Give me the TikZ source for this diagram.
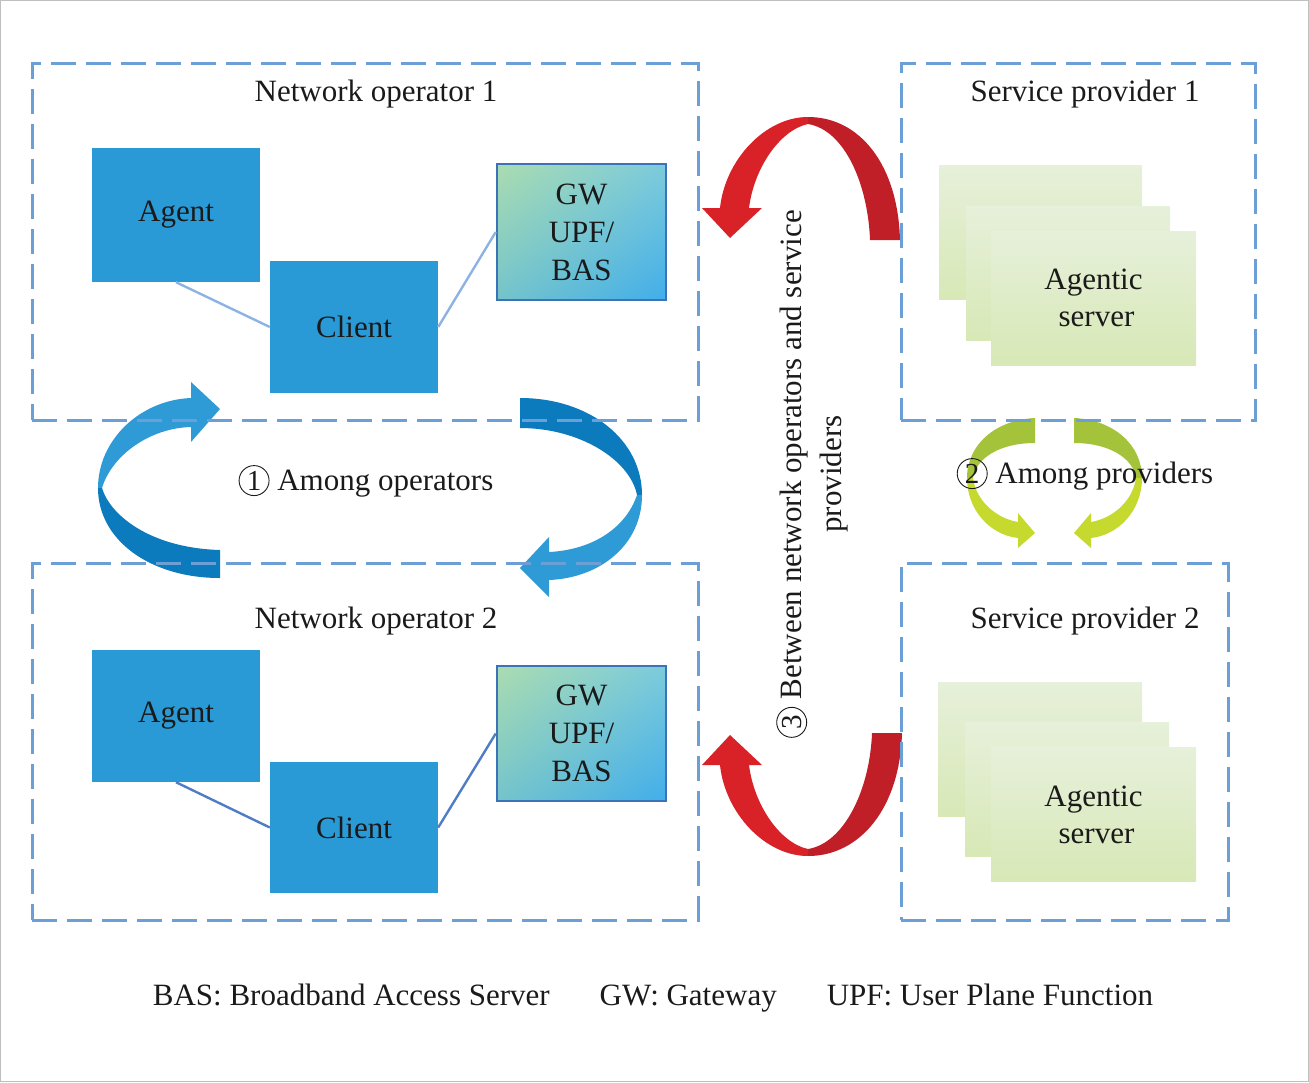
\documentclass[tikz,border=0pt]{standalone}
\usepackage{fontspec}
\usetikzlibrary{shadings}
\setmainfont{Liberation Serif}
\definecolor{dashc}{HTML}{6C9FD5}
\definecolor{boxblue}{HTML}{2A9AD6}
\definecolor{lnlight}{HTML}{8DB3E2}
\definecolor{lndark}{HTML}{4F7CC4}
\definecolor{gwborder}{HTML}{3C72B8}
\definecolor{redA}{HTML}{D92128}
\definecolor{redB}{HTML}{C01F27}
\definecolor{blueL}{HTML}{2E9BD6}
\definecolor{blueD}{HTML}{0B7BBD}
\definecolor{grnA}{HTML}{A5C23B}
\definecolor{grnB}{HTML}{C6D92E}
\definecolor{srvT}{HTML}{E6F0DA}
\definecolor{srvB}{HTML}{D8E8B6}
\definecolor{txt}{HTML}{1A1A1A}
\definecolor{gwUL}{HTML}{AADCB0}
\definecolor{gwUR}{HTML}{7CCBDC}
\definecolor{gwLL}{HTML}{74C4CC}
\definecolor{gwLR}{HTML}{42AEEA}
\newcommand{\circnum}[2]{\tikz[baseline=(#2.base)]\node[draw=txt, circle, line width=0.9pt, inner sep=0pt, minimum size=30pt, font=\fontsize{29}{29}\selectfont] (#2) {#1};}
\begin{document}
\begin{tikzpicture}[x=1pt,y=-1pt,
  every node/.style={text=txt, font=\fontsize{31}{38}\selectfont},
  dbox/.style={draw=dashc, line width=3pt, dash pattern=on 25pt off 10pt, inner sep=0pt, minimum height=357pt},
  bluebox/.style={fill=boxblue, inner sep=0pt, minimum width=168pt},
  gwbox/.style={draw=gwborder, line width=2.5pt, upper left=gwUL, upper right=gwUR, lower left=gwLL, lower right=gwLR, inner sep=0pt, minimum width=169pt, align=center},
  srv/.style={top color=srvT, bottom color=srvB, inner sep=0pt, minimum height=134pt, align=center},
  title/.style={inner sep=0pt, anchor=center},
  link1/.style={draw=lnlight, line width=2.4pt},
  link2/.style={draw=lndark, line width=2.4pt}
]
\useasboundingbox (0,0) rectangle (1309,1082);
\draw[black!25, line width=1pt] (0.5,0.5) rectangle (1308.5,1081.5);

% ---- blue arrows (among operators)
\fill[blueL] (98,488) .. controls (98,440) and (140,400) .. (191,398) -- (191,382) -- (220,409) -- (191,442) -- (191,427) .. controls (150,428) and (112,455) .. (102,488) -- cycle;
\fill[blueD] (98,488) .. controls (98,540) and (150,578) .. (220,578) -- (220,550) .. controls (150,548) and (110,515) .. (102,488) -- cycle;
\fill[blueD] (520,398) .. controls (590,398) and (642,440) .. (642,495) -- (637,495) .. controls (630,460) and (580,428) .. (520,428) -- cycle;
\fill[blueL] (642,495) .. controls (642,545) and (600,578) .. (549,580) -- (549,597) -- (520,568) -- (549,537) -- (549,552) .. controls (590,550) and (625,530) .. (637,495) -- cycle;

% ---- red arrows (between operators and providers)
\fill[redA] (808,117) .. controls (765,117) and (725,160) .. (720,208) -- (702,208) -- (730,238) -- (762,208) -- (749,208) .. controls (754,168) and (780,130) .. (808,124) -- cycle;
\fill[redB] (808,117) .. controls (860,117) and (898,165) .. (900,240) -- (870,240) .. controls (868,185) and (845,130) .. (808,124) -- cycle;
\fill[redA] (808,856) .. controls (765,856) and (725,813) .. (720,765) -- (702,765) -- (730,735) -- (762,765) -- (749,765) .. controls (754,805) and (780,843) .. (808,849) -- cycle;
\fill[redB] (808,856) .. controls (860,856) and (900,808) .. (902,733) -- (872,733) .. controls (870,788) and (845,843) .. (808,849) -- cycle;

% ---- green arrows (among providers)
\fill[grnA] (1035,418) .. controls (995,420) and (967,445) .. (967,478) -- (973,478) .. controls (976,458) and (1000,443) .. (1035,443) -- cycle;
\fill[grnB] (967,478) .. controls (967,510) and (990,535) .. (1018,538) -- (1018,548) -- (1035,533) -- (1018,513) -- (1018,522) .. controls (995,518) and (976,500) .. (973,478) -- cycle;
\fill[grnA] (1074,418) .. controls (1114,420) and (1142,445) .. (1142,478) -- (1136,478) .. controls (1133,458) and (1109,443) .. (1074,443) -- cycle;
\fill[grnB] (1142,478) .. controls (1142,510) and (1119,535) .. (1091,538) -- (1091,548) -- (1074,533) -- (1091,513) -- (1091,522) .. controls (1114,518) and (1133,500) .. (1136,478) -- cycle;

% ---- dashed frames
\node[dbox, minimum width=666pt] (no1) at (365,241.5) {};
\node[dbox, minimum width=666pt] (no2) at (365,741.5) {};
\node[dbox, minimum width=354pt] (sp1) at (1078,241.5) {};
\node[dbox, minimum width=327pt] (sp2) at (1064.5,741.5) {};

\node[title] (tno1) at (376,94) {Network operator 1};
\node[title] (tno2) at (376,621) {Network operator 2};
\node[title] (tsp1) at (1085,94) {Service provider 1};
\node[title] (tsp2) at (1085,621) {Service provider 2};

% ---- operator 1
\node[bluebox, minimum height=134pt] (agent1) at (176,215) {Agent};
\node[bluebox, minimum height=132pt] (client1) at (354,327) {Client};
\node[gwbox, minimum height=136pt] (gw1) at (581.5,232) {GW\\UPF/\\BAS};
\draw[link1] (agent1.south) -- (client1.west);
\draw[link1] (client1.east) -- (gw1.west);

% ---- operator 2
\node[bluebox, minimum height=132pt] (agent2) at (176,716) {Agent};
\node[bluebox, minimum height=131pt] (client2) at (354,827.5) {Client};
\node[gwbox, minimum height=135pt] (gw2) at (581.5,733.5) {GW\\UPF/\\BAS};
\draw[link2] (agent2.south) -- (client2.west);
\draw[link2] (client2.east) -- (gw2.west);

% ---- agentic servers
\node[srv, minimum width=203pt] (s1a) at (1040.5,232.5) {};
\node[srv, minimum width=204pt] (s1b) at (1068,273) {};
\node[srv, minimum width=205pt] (s1c) at (1093.5,298) {\raisebox{-7pt}{Agentic}\\[-1pt]\hspace*{6pt}\raisebox{-7pt}{server}};
\node[srv, minimum width=204pt] (s2a) at (1040,749.5) {};
\node[srv, minimum width=204pt] (s2b) at (1067,789.5) {};
\node[srv, minimum width=205pt] (s2c) at (1093.5,814.5) {\raisebox{-4pt}{Agentic}\\[-1pt]\hspace*{6pt}\raisebox{-4pt}{server}};

% ---- labels
\node[inner sep=0pt] (l1) at (366,481) {\circnum{1}{c1} Among operators};
\node[inner sep=0pt] (l2) at (1085,474) {\circnum{2}{c2} Among providers};
\node[inner sep=0pt, rotate=90, align=center, font=\fontsize{31}{40}\selectfont] (l3) at (812,474) {\circnum{3}{c3} Between network operators and service\\providers};

\node[inner sep=0pt] (legend) at (653,998) {BAS: Broadband Access Server\hspace{50pt}GW: Gateway\hspace{50pt}UPF: User Plane Function};
\end{tikzpicture}
\end{document}
